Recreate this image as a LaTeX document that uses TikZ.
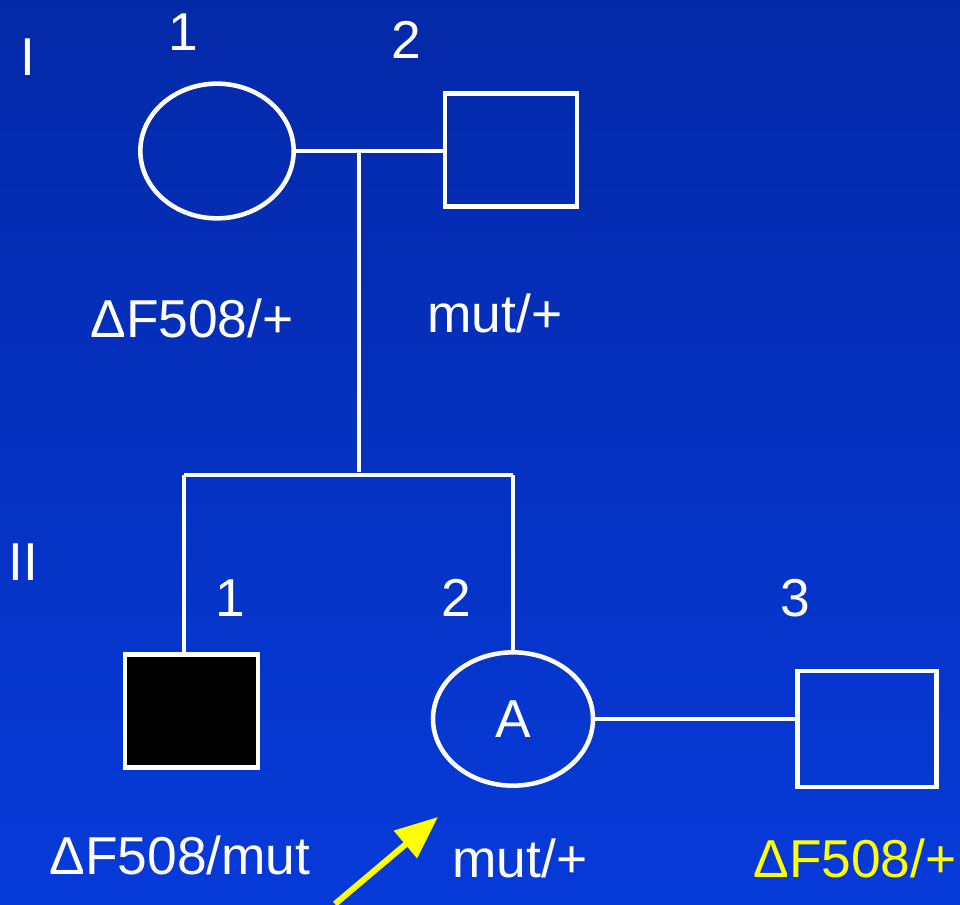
\documentclass[tikz,border=0pt]{standalone}
\usepackage{fontspec}
\setmainfont{Liberation Sans}
\usetikzlibrary{shapes.geometric,arrows.meta}
\definecolor{bgtop}{HTML}{0429A8}
\definecolor{bgbot}{HTML}{063AD9}
\definecolor{yel}{HTML}{FFFF00}
\begin{document}
\begin{tikzpicture}[x=0.75pt,y=-0.75pt,
  lbl/.style={text=white,font=\fontsize{40}{44}\selectfont,inner sep=0pt,anchor=center},
  pline/.style={draw=white,line width=3.4pt},
  female/.style={pline,ellipse,minimum width=#1,inner sep=0pt},
  male/.style={pline,rectangle,inner sep=0pt}
]
\shade[top color=bgtop,bottom color=bgbot] (0,0) rectangle (960,904);
\useasboundingbox (0,0) rectangle (960,904);

% generation labels
\node[lbl] (gI) at (28,57) {I};
\node[lbl] (gII) at (23,562) {II};

% generation I
\node[lbl] (n11) at (183,32) {1};
\node[lbl] (n12) at (406,40) {2};
\node[female=115pt, minimum height=101pt] (f1) at (217,151) {};
\node[male, minimum width=99pt, minimum height=85pt] (m1) at (511,150) {};
\coordinate (mid) at (359,152);
\draw[pline] (f1.east) -- (m1.west |- f1.east);
\coordinate (sib) at (359,472);
\draw[pline] (mid) -- (sib);
\coordinate (sibL) at (184,475);
\coordinate (sibR) at (513,475);
\draw[pline] (sibL) -- (sibR);

\node[lbl] (g1) at (192,318) {ΔF508/+};
\node[lbl] (g2) at (495,313) {mut/+};

% generation II
\node[lbl] (n21) at (230,598) {1};
\node[lbl] (n22) at (456,598) {2};
\node[lbl] (n23) at (795,598) {3};

\node[male, fill=black, minimum width=100pt, minimum height=85pt] (s1) at (191.5,711) {};
\node[female=120pt, minimum height=100pt, lbl] (s2) at (513,719) {A};
\node[male, minimum width=104pt, minimum height=87pt] (s3) at (867,729) {};

\draw[pline] (sibL) -- (s1.north -| sibL);
\draw[pline] (sibR) -- (s2.north);
\draw[pline] (s2.east) -- (s3.west |- s2.east);

\node[lbl] (g3) at (180,855) {ΔF508/mut};
\node[lbl] (g4) at (520,858) {mut/+};
\node[lbl,text=yel] (g5) at (855,858) {ΔF508/+};

\coordinate (arrS) at (335,904);
\coordinate (arrE) at (438,817);
\draw[yel,line width=4.5pt,-{Triangle[length=32pt,width=26pt]}] (arrS) -- (arrE);
\end{tikzpicture}
\end{document}
